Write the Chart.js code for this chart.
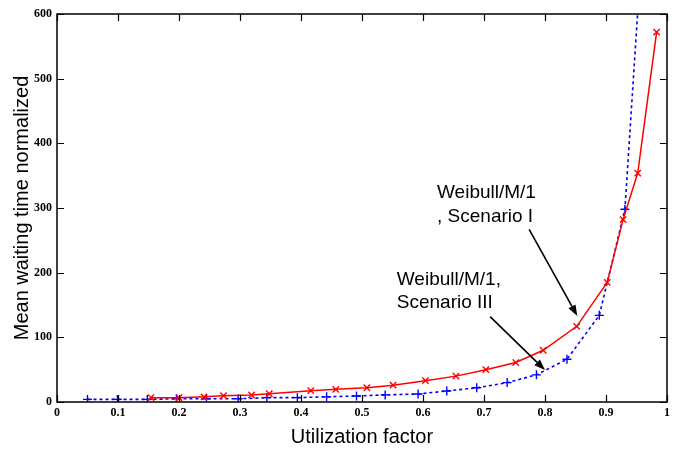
<!DOCTYPE html>
<html>
<head>
<meta charset="utf-8">
<script src="https://cdn.jsdelivr.net/npm/chart.js@4/dist/chart.umd.min.js"></script>
<style>
  html, body { margin: 0; padding: 0; background: #fff; }
  #wrap { width: 683px; height: 451px; }
</style>
</head>
<body>
<div id="wrap"><canvas id="chart" width="683" height="451"></canvas></div>
<script>
// Scenario I (red, x markers)
var rhoI = [0.154, 0.2, 0.241, 0.273, 0.319, 0.348, 0.416, 0.457, 0.508, 0.551, 0.604, 0.654, 0.703, 0.752, 0.797, 0.852, 0.902, 0.928, 0.952, 0.983];
var waitI = [6.7, 6.5, 8, 9.8, 10.8, 12.8, 17.5, 19.6, 22, 26, 33, 40, 50, 61, 80, 117, 185, 282, 354, 572];

// Scenario III (blue, + markers)
var rhoIII = [0.05, 0.099, 0.148, 0.196, 0.245, 0.297, 0.344, 0.394, 0.442, 0.491, 0.538, 0.592, 0.639, 0.688, 0.738, 0.786, 0.836, 0.889, 0.931, 0.96];
var waitIII = [4, 4, 4, 5, 5, 5, 6.7, 6.7, 8, 9.3, 11, 12.4, 17, 22, 30, 42, 66, 134, 298, 720];

var xTicks = [0, 0.1, 0.2, 0.3, 0.4, 0.5, 0.6, 0.7, 0.8, 0.9, 1];
var yTicks = [0, 100, 200, 300, 400, 500, 600];

// labels with arrows, in data units
var notes = [
  { lines: ['Weibull/M/1', ', Scenario I'], x: 0.623, y: [315, 278], from: [0.774, 267], to: [0.853, 133] },
  { lines: ['Weibull/M/1,', 'Scenario III'], x: 0.557, y: [181, 145], from: [0.71, 132], to: [0.8, 49.5] }
];

function pts(xs, ys) {
  return xs.map(function (x, i) { return { x: x, y: ys[i] }; });
}

var frame = {
  id: 'frame',
  afterDatasetsDraw: function (chart) {
    var ctx = chart.ctx, a = chart.chartArea;
    var xs = chart.scales.x, ys = chart.scales.y;
    var len = 7;
    ctx.save();
    ctx.strokeStyle = '#000';
    ctx.lineWidth = 1.2;
    xTicks.forEach(function (v) {
      var px = Math.round(xs.getPixelForValue(v)) + 0.5;
      ctx.beginPath();
      ctx.moveTo(px, a.bottom); ctx.lineTo(px, a.bottom - len);
      ctx.moveTo(px, a.top); ctx.lineTo(px, a.top + len);
      ctx.stroke();
    });
    yTicks.forEach(function (v) {
      var py = Math.round(ys.getPixelForValue(v)) + 0.5;
      ctx.beginPath();
      ctx.moveTo(a.left, py); ctx.lineTo(a.left + len, py);
      ctx.moveTo(a.right, py); ctx.lineTo(a.right - len, py);
      ctx.stroke();
    });
    ctx.lineWidth = 1.5;
    ctx.strokeRect(a.left, a.top, a.right - a.left, a.bottom - a.top);

    // annotations
    ctx.fillStyle = '#000';
    ctx.font = '19px "Liberation Sans", Arial, sans-serif';
    ctx.textBaseline = 'alphabetic';
    notes.forEach(function (n) {
      var tx = xs.getPixelForValue(n.x);
      n.lines.forEach(function (s, i) {
        ctx.fillText(s, tx, ys.getPixelForValue(n.y[i]));
      });
      var x0 = xs.getPixelForValue(n.from[0]), y0 = ys.getPixelForValue(n.from[1]);
      var x1 = xs.getPixelForValue(n.to[0]), y1 = ys.getPixelForValue(n.to[1]);
      var ang = Math.atan2(y1 - y0, x1 - x0);
      var hl = 11, hw = 4;
      var bx = x1 - hl * Math.cos(ang), by = y1 - hl * Math.sin(ang);
      ctx.lineWidth = 1.6;
      ctx.beginPath();
      ctx.moveTo(x0, y0); ctx.lineTo(bx, by);
      ctx.stroke();
      ctx.beginPath();
      ctx.moveTo(x1, y1);
      ctx.lineTo(bx + hw * Math.sin(ang), by - hw * Math.cos(ang));
      ctx.lineTo(bx - hw * Math.sin(ang), by + hw * Math.cos(ang));
      ctx.closePath();
      ctx.fill();
    });
    ctx.restore();
  }
};

var tickFont = { family: '"Liberation Serif", "Times New Roman", serif', size: 12, weight: 'bold' };
var titleFont = { family: '"Liberation Sans", Arial, sans-serif', size: 20 };

new Chart(document.getElementById('chart').getContext('2d'), {
  type: 'line',
  data: {
    datasets: [{
      label: 'Weibull/M/1, Scenario I',
      data: pts(rhoI, waitI),
      borderColor: '#ff0000',
      backgroundColor: '#ff0000',
      borderWidth: 1.5,
      pointStyle: 'crossRot',
      pointRadius: 4.5,
      pointBorderWidth: 1.4,
      tension: 0
    }, {
      label: 'Weibull/M/1, Scenario III',
      data: pts(rhoIII, waitIII),
      borderColor: '#0000ff',
      backgroundColor: '#0000ff',
      borderWidth: 1.6,
      borderDash: [3, 3],
      pointStyle: 'cross',
      pointRadius: 4.5,
      pointBorderWidth: 1.4,
      tension: 0
    }]
  },
  options: {
    responsive: false,
    animation: false,
    layout: { padding: { top: 14, right: 16, left: 0, bottom: 0 } },
    plugins: { legend: { display: false }, tooltip: { enabled: false } },
    scales: {
      x: {
        type: 'linear',
        min: 0, max: 1,
        afterFit: function (s) { s.height = 49; },
        afterBuildTicks: function (s) { s.ticks = xTicks.map(function (v) { return { value: v }; }); },
        grid: { display: false, drawTicks: false },
        border: { display: false },
        ticks: {
          color: '#000', font: tickFont, padding: 4, maxRotation: 0,
          callback: function (v) { return String(v); }
        },
        title: { display: true, text: 'Utilization factor', color: '#000', font: titleFont, padding: { top: 0, bottom: 2 } }
      },
      y: {
        min: 0, max: 600,
        afterFit: function (s) { s.width = 57; },
        afterBuildTicks: function (s) { s.ticks = yTicks.map(function (v) { return { value: v }; }); },
        grid: { display: false, drawTicks: false },
        border: { display: false },
        ticks: { color: '#000', font: tickFont, padding: 5 },
        title: { display: true, text: 'Mean waiting time normalized', color: '#000', font: titleFont, padding: { top: 10, bottom: 0 } }
      }
    }
  },
  plugins: [frame]
});
</script>
</body>
</html>
